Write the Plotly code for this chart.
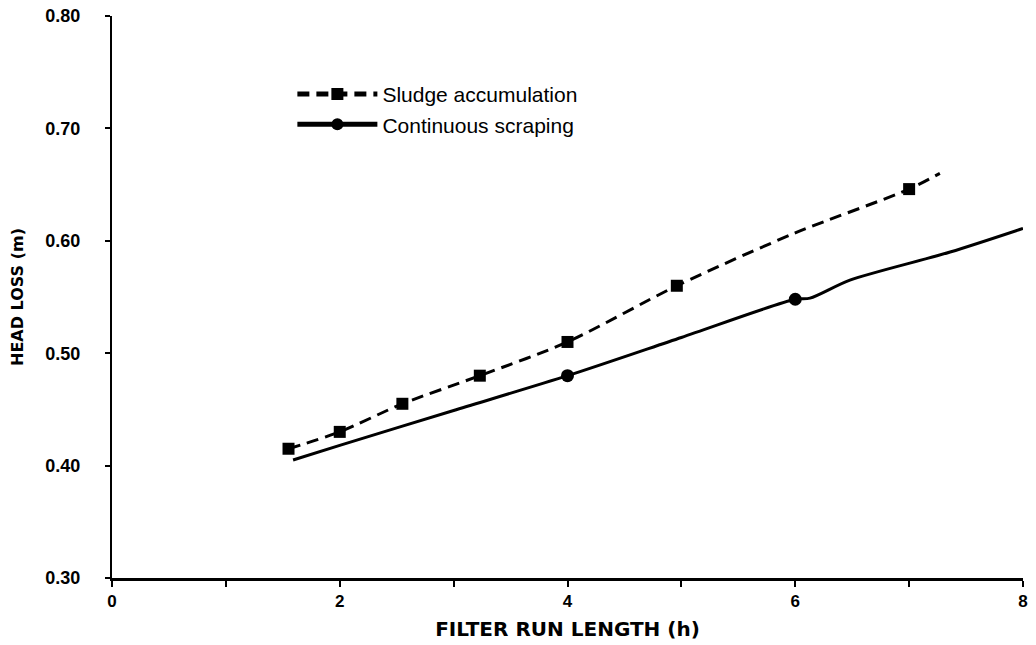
import plotly.graph_objects as go

sludge_x = [1.55, 2.0, 2.55, 3.23, 4.0, 4.96, 6.0, 7.0, 7.27]
sludge_y = [0.415, 0.430, 0.455, 0.480, 0.510, 0.560, 0.607, 0.646, 0.660]
sludge_measured = [True, True, True, True, True, True, False, True, False]

scrape_x = [1.59, 2.0, 3.0, 4.0, 5.0, 6.0, 6.13, 6.48, 7.36, 8.0]
scrape_y = [0.405, 0.418, 0.449, 0.480, 0.514, 0.548, 0.549, 0.565, 0.590, 0.611]
scrape_measured = [False, False, False, True, False, True, False, False, False, False]

x_tickvals = [0, 1, 2, 3, 4, 5, 6, 7, 8]
x_ticktext = ["0", "", "2", "", "4", "", "6", "", "8"]
y_tickvals = [0.30, 0.40, 0.50, 0.60, 0.70, 0.80]
y_ticktext = ["0.30", "0.40", "0.50", "0.60", "0.70", "0.80"]

FONT = "Liberation Sans, Arial, sans-serif"
WIDE = "DejaVu Sans, sans-serif"

fig = go.Figure()
fig.add_trace(go.Scatter(
    x=sludge_x, y=sludge_y, mode="lines+markers", name="Sludge accumulation",
    line=dict(color="black", width=3, dash="12px,7px", shape="spline", smoothing=0.8),
    marker=dict(symbol="square", size=[12 if m else 0 for m in sludge_measured],
                color="black", opacity=1, line=dict(width=0)),
))
fig.add_trace(go.Scatter(
    x=scrape_x, y=scrape_y, mode="lines+markers", name="Continuous scraping",
    line=dict(color="black", width=3, shape="spline", smoothing=0.8),
    marker=dict(symbol="circle", size=[13 if m else 0 for m in scrape_measured],
                color="black", opacity=1, line=dict(width=0)),
))

fig.update_layout(
    width=1036, height=645,
    margin=dict(l=112, r=13, t=16, b=67),
    paper_bgcolor="white", plot_bgcolor="white",
    font=dict(family=FONT, color="black"),
    legend=dict(x=0.198, y=0.897, xanchor="left", yanchor="top",
                bgcolor="rgba(0,0,0,0)", font=dict(size=21, family=FONT),
                itemwidth=80, itemsizing="constant"),
    xaxis=dict(range=[0, 8], tickvals=x_tickvals, automargin=False,
               ticktext=["<b>%s</b>" % t if t else "" for t in x_ticktext],
               showgrid=False, zeroline=False, showline=True, linecolor="black", linewidth=3,
               ticks="outside", ticklen=6, tickwidth=2, tickcolor="black",
               tickfont=dict(size=17, family=FONT), ticklabelstandoff=0,
               title=dict(text="<b>FILTER RUN LENGTH (h)</b>", font=dict(size=20, family=WIDE), standoff=12)),
    yaxis=dict(range=[0.30, 0.80], tickvals=y_tickvals, automargin=False,
               ticktext=["<b>%s</b>" % t for t in y_ticktext],
               showgrid=False, zeroline=False, showline=True, linecolor="black", linewidth=2,
               ticks="outside", ticklen=5, tickwidth=2, tickcolor="black",
               tickfont=dict(size=18, family=FONT), ticklabelstandoff=21,
               title=dict(text="<b>HEAD LOSS (m)</b>", font=dict(size=16, family=WIDE), standoff=18)),
)

fig.write_html("out.html")
